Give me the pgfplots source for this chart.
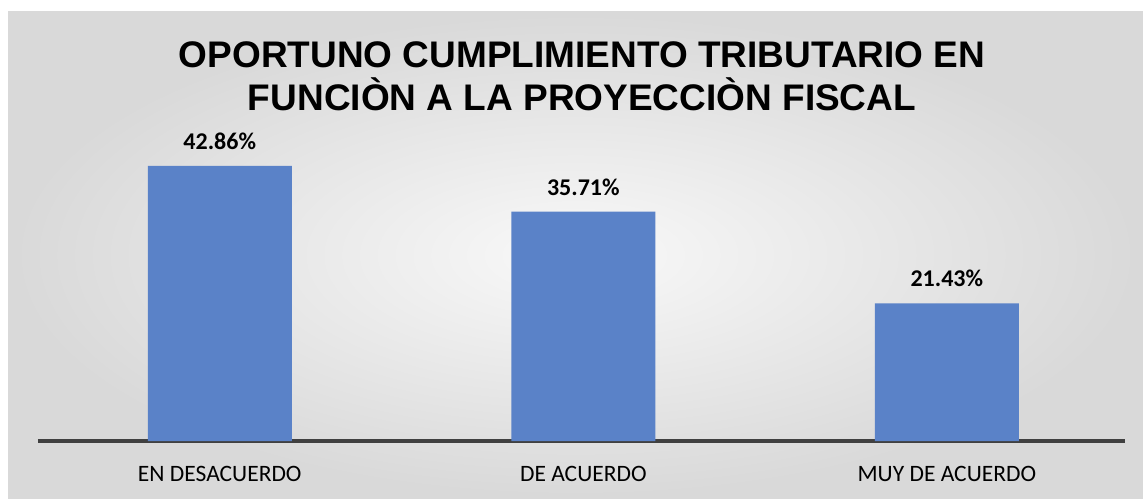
\documentclass[border=0pt]{standalone}
\usepackage{pgfplots}
\pgfplotsset{compat=1.18}
\usepackage{fontspec}
\setmainfont{Carlito}
\newfontfamily\titlefont{Liberation Sans}
\definecolor{barblue}{HTML}{5A82C8}
\definecolor{axisgray}{HTML}{404040}
\begin{document}
\begin{tikzpicture}[x=1pt,y=1pt]
\useasboundingbox (0,0) rectangle (1143,498);
\fill[white] (0,0) rectangle (1143,498);
\shade[inner color=gray!5, outer color=gray!30] (8,0) rectangle (1143,486);
\node[font=\titlefont\bfseries\fontsize{37}{43}\selectfont, align=center, text=black] at (582,422) {OPORTUNO CUMPLIMIENTO TRIBUTARIO EN\\FUNCIÒN A LA PROYECCIÒN FISCAL};
\begin{axis}[
  at={(38pt,57pt)}, anchor=south west,
  scale only axis, width=1087pt, height=321pt,
  xmin=-0.5, xmax=2.49, ymin=0, ymax=50,
  axis x line=bottom, axis y line=none,
  axis line style={line width=3.5pt, color=axisgray, -},
  xtick={0,1,2}, xticklabels={EN DESACUERDO, DE ACUERDO, MUY DE ACUERDO},
  major tick length=0pt,
  xticklabel style={font=\fontsize{23.5}{27}\selectfont, text=black, yshift=-22pt},
  ytick=\empty,
  clip=false,
  /pgf/number format/assume math mode=true,
  nodes near coords={\pgfmathprintnumber[fixed,fixed zerofill,precision=2,assume math mode=true]{\pgfplotspointmeta}\%},
  nodes near coords style={font=\bfseries\fontsize{24}{28}\selectfont, text=black, yshift=13pt},
]
\addplot[ybar, bar width=144pt, fill=barblue, draw=none] coordinates {(0,42.86) (1,35.71) (2,21.43)};
\end{axis}
\end{tikzpicture}
\end{document}
